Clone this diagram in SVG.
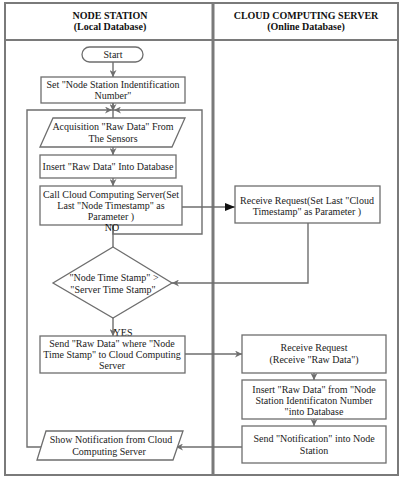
<svg xmlns="http://www.w3.org/2000/svg" width="402" height="480" viewBox="0 0 402 480">
<defs>
<style>
.frame{fill:none;stroke:#7a7a7a;stroke-width:2}
.box{fill:#fff;stroke:#6e6e6e;stroke-width:1.3}
.ln{fill:none;stroke:#6e6e6e;stroke-width:1.4}
text{font-family:'Liberation Serif','Times New Roman','DejaVu Serif',serif;font-size:10px}
.t{fill:#222;text-anchor:middle}
.h{font-weight:bold;fill:#111;text-anchor:middle}
</style>
<marker id="ag" viewBox="0 0 10 10" refX="10" refY="5" markerWidth="7" markerHeight="7" markerUnits="userSpaceOnUse" orient="auto"><path d="M0,0 L10,5 L0,10 L3,5 z" fill="#6e6e6e"/></marker>
<marker id="ab" viewBox="0 0 10 10" refX="10" refY="5" markerWidth="10" markerHeight="10" markerUnits="userSpaceOnUse" orient="auto"><path d="M0,1 L10,5 L0,9 z" fill="#111"/></marker>
</defs>
<rect id="frame" class="frame" x="5" y="3" width="393" height="472"/>
<line class="frame" x1="5" y1="40" x2="398" y2="40"/>
<line x1="213" y1="3" x2="213" y2="475" stroke="#7a7a7a" stroke-width="3"/>
<g id="header-left" font-family="Liberation Serif, serif"><text class="h" x="110" y="19">NODE STATION</text><text class="h" x="110" y="30">(Local Database)</text></g>
<g id="header-right"><text class="h" x="306" y="19">CLOUD COMPUTING SERVER</text><text class="h" x="306" y="30">(Online Database)</text></g>
<g id="connectors">
<line class="ln" x1="113" y1="62" x2="113" y2="77" marker-end="url(#ag)"/>
<line class="ln" x1="113" y1="103" x2="113" y2="118"/>
<line class="ln" x1="113" y1="103" x2="113" y2="111" marker-end="url(#ag)"/>
<polyline class="ln" points="42,447 27,447 27,110 112,110" marker-end="url(#ag)"/>
<polyline class="ln" points="113,225 113,234 202,234 202,110 114,110" marker-end="url(#ag)"/>
<line class="ln" x1="113" y1="147" x2="113" y2="155" marker-end="url(#ag)"/>
<line class="ln" x1="113" y1="178" x2="113" y2="186" marker-end="url(#ag)"/>
<line class="ln" x1="113" y1="225" x2="113" y2="247"/>
<line class="ln" x1="182" y1="207" x2="235" y2="207" marker-end="url(#ab)"/>
<polyline class="ln" points="308,223 308,283 172,283" marker-end="url(#ag)"/>
<line class="ln" x1="113" y1="318" x2="113" y2="336" marker-end="url(#ag)"/>
<line class="ln" x1="185" y1="354" x2="242" y2="354" marker-end="url(#ag)"/>
<line class="ln" x1="314" y1="373" x2="314" y2="380" marker-end="url(#ag)"/>
<line class="ln" x1="314" y1="419" x2="314" y2="426" marker-end="url(#ag)"/>
<line class="ln" x1="242" y1="447" x2="176" y2="447" marker-end="url(#ag)"/>
</g>
<g id="start"><rect class="box" x="82" y="47" width="61" height="15" rx="7.5"/><text class="t" x="113" y="58">Start</text></g>
<g id="set-id"><rect class="box" x="41" y="77" width="144" height="26"/><text class="t" x="113" y="88">Set "Node Station Indentification</text><text class="t" x="113" y="99">Number"</text></g>
<g id="acquisition"><polygon class="box" points="53,118 185,118 172,147 40,147"/><text class="t" x="113" y="130">Acquisition "Raw Data" From</text><text class="t" x="113" y="142">The Sensors</text></g>
<g id="insert-local"><rect class="box" x="40" y="155" width="136" height="23"/><text class="t" x="108" y="170">Insert "Raw Data" Into Database</text></g>
<g id="call-cloud"><rect class="box" x="40" y="186" width="142" height="39"/><text class="t" x="111" y="198">Call Cloud Computing Server(Set</text><text class="t" x="111" y="209">Last "Node Timestamp" as</text><text class="t" x="111" y="220">Parameter )</text><text class="t" x="112" y="231" style="fill:#111">NO</text></g>
<g id="decision"><polygon class="box" points="113,247 172,283 113,318 53,283"/><text class="t" x="114" y="281">"Node Time Stamp" &gt;</text><text class="t" x="113" y="293">"Server Time Stamp"</text><text class="t" x="123" y="336" style="fill:#111">YES</text></g>
<g id="send-raw"><rect class="box" x="40" y="336" width="145" height="37"/><text class="t" x="112" y="347">Send "Raw Data" where "Node</text><text class="t" x="112" y="358">Time Stamp" to Cloud Computing</text><text class="t" x="112" y="369">Server</text></g>
<g id="show-notif"><polygon class="box" points="46,431 183,431 173,460 37,460"/><text class="t" x="111" y="443">Show Notification  from Cloud</text><text class="t" x="109" y="455">Computing Server</text></g>
<g id="receive-ts"><rect class="box" x="235" y="186" width="145" height="37"/><text class="t" x="307" y="204">Receive Request(Set Last "Cloud</text><text class="t" x="307" y="215">Timestamp"  as Parameter )</text></g>
<g id="receive-raw"><rect class="box" x="242" y="335" width="144" height="38"/><text class="t" x="314" y="351">Receive Request</text><text class="t" x="314" y="363">(Receive "Raw Data")</text></g>
<g id="insert-cloud"><rect class="box" x="242" y="380" width="144" height="39"/><text class="t" x="314" y="393">Insert "Raw Data" from "Node</text><text class="t" x="314" y="404">Station Identificaton Number</text><text class="t" x="314" y="415">"into Database</text></g>
<g id="send-notif"><rect class="box" x="242" y="426" width="144" height="37"/><text class="t" x="314" y="442">Send "Notification" into Node</text><text class="t" x="314" y="454">Station</text></g>
</svg>
